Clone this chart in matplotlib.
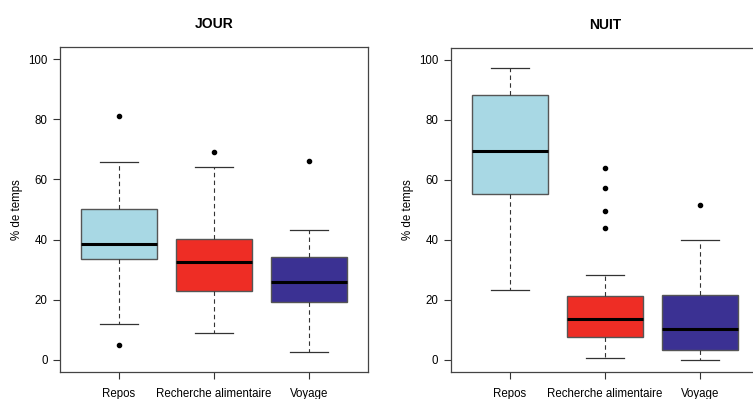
"""Activity budget boxplots, day vs night."""

import matplotlib
matplotlib.use("Agg")
import matplotlib.pyplot as plt

plt.rcParams["font.family"] = ["Liberation Sans", "DejaVu Sans"]

categories = ["Repos", "Recherche alimentaire", "Voyage"]
colors = ["#a8d8e4", "#ee2d25", "#3b3193"]

# per category: (whislo, q1, median, q3, whishi)
jour_stats = [(12.0, 33.6, 38.6, 50.2, 65.7),
              (8.8, 22.9, 32.6, 40.1, 64.1),
              (2.6, 19.4, 25.8, 34.1, 43.3)]
jour_fliers = [[81.0, 5.1], [69.0], [66.0]]

nuit_stats = [(23.3, 55.4, 69.6, 88.3, 97.2),
              (0.8, 7.8, 13.6, 21.3, 28.4),
              (0.0, 3.2, 10.3, 21.7, 40.0)]
nuit_fliers = [[], [64.0, 57.2, 49.6, 44.1], [51.7]]

yticks = [0, 20, 40, 60, 80, 100]


def make_stats(stats, fliers):
    out = []
    for (lo, q1, med, q3, hi), fl in zip(stats, fliers):
        out.append({"whislo": lo, "q1": q1, "med": med, "q3": q3,
                    "whishi": hi, "fliers": fl})
    return out


def draw_panel(ax, stats, fliers, title):
    bp = ax.bxp(
        make_stats(stats, fliers),
        positions=[1, 2, 3],
        widths=0.8,
        patch_artist=True,
        boxprops=dict(edgecolor="#555555", linewidth=1.0),
        medianprops=dict(color="black", linewidth=2.2),
        whiskerprops=dict(color="#333333", linewidth=0.8, linestyle=(0, (4, 3))),
        capprops=dict(color="#333333", linewidth=0.9),
        capwidths=0.4,
        flierprops=dict(marker="o", markersize=3, markerfacecolor="black",
                        markeredgecolor="black"),
    )
    for patch, c in zip(bp["boxes"], colors):
        patch.set_facecolor(c)
    ax.set_xlim(0.38, 3.62)
    ax.set_ylim(-4, 104)
    ax.set_yticks(yticks)
    ax.set_xticks([1, 2, 3])
    ax.set_xticklabels(categories)
    ax.tick_params(axis="both", direction="out", length=5, width=0.8,
                   color="#333333", labelsize=8.3, pad=4)
    ax.tick_params(axis="x", pad=6.5)
    ax.set_ylabel("% de temps", fontsize=8.3, labelpad=4)
    for s in ax.spines.values():
        s.set_color("#444444")
        s.set_linewidth(0.9)
    ax.set_title(title, fontsize=10, fontweight="bold", pad=14)


fig = plt.figure(figsize=(7.53, 3.99), dpi=100)
ax1 = fig.add_axes([60 / 753, 27 / 399, 308 / 753, 325 / 399])
ax2 = fig.add_axes([451 / 753, 27 / 399, 308 / 753, 324 / 399])
draw_panel(ax1, jour_stats, jour_fliers, "JOUR")
draw_panel(ax2, nuit_stats, nuit_fliers, "NUIT")

fig.savefig("out.png", dpi=100)
